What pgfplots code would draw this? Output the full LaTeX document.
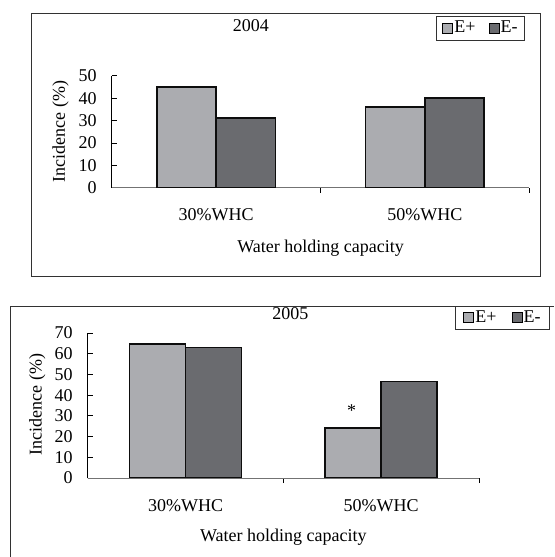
\documentclass[border=0pt]{standalone}
\usepackage{pgfplots}
\pgfplotsset{compat=1.18}
\usepackage{fontspec}
\setmainfont{Liberation Serif}
\definecolor{eplus}{RGB}{171,172,176}
\definecolor{eminus}{RGB}{106,107,111}
\definecolor{frame}{RGB}{50,50,50}
\pgfplotsset{
  myaxis/.style={
    scale only axis,
    axis x line*=bottom, axis y line*=left,
    xmin=-0.5, xmax=1.5, ymin=0,
    tick align=inside, major tick length=5bp,
    /pgf/number format/assume math mode=true,
    xtick={0.5,1.5}, xticklabels={,},
    extra x ticks={0,1}, extra x tick labels={30\%WHC,50\%WHC},
    extra x tick style={major tick length=0pt, xticklabel style={anchor=base, yshift=-33.3bp}},
    yticklabel style={xshift=-9bp},
    ybar=0pt,
    x axis line style={draw=black!55, line width=0.8bp},
    y axis line style={draw=black, line width=1bp},
    tick style={draw=black, line width=1bp},
    legend columns=2,
    legend image code/.code={\draw[#1,draw=black,line width=1bp] (0bp,-5bp) rectangle (10bp,5bp);},
    title style={anchor=center},
    xlabel style={anchor=base},
    ylabel style={anchor=center},
  },
  eplusbar/.style={fill=eplus, draw=black!95, line width=1.5bp},
  eminusbar/.style={fill=eminus, draw=black!95, line width=1.5bp},
}
\begin{document}
\fontsize{18bp}{21.6bp}\selectfont
\begin{tikzpicture}
\useasboundingbox (0,0) rectangle (555bp,557bp);
% panel frames
\draw[frame, line width=1bp] (31bp,280.3bp) rectangle (540.7bp,543bp);
\draw[frame, line width=1bp] (10bp,0bp) -- (10bp,250.7bp) -- (554bp,250.7bp);

% 2004
\begin{axis}[myaxis,
  at={(111.7bp,369.3bp)}, anchor=south west,
  width=417.6bp, height=111.7bp,
  ymax=50, ytick={0,10,20,30,40,50},
  bar width=59.3bp,
  title={2004}, title style={at={(axis description cs:0.333,1.397)}},
  xlabel={Water holding capacity}, xlabel style={at={(axis description cs:0.5,-0.582)}},
  ylabel={Incidence (\%)}, ylabel style={at={(axis description cs:-0.1226,0.505)}},
  legend style={at={(axis description cs:0.9897,1.537)}, anchor=north east,
    draw=frame, line width=0.8bp, inner xsep=6bp, inner ysep=3.5bp,
    /tikz/every even column/.append style={column sep=12bp},
    nodes={inner sep=1bp}},
]
\addplot[eplusbar] coordinates {(0,45.1) (1,36.1)};
\addplot[eminusbar] coordinates {(0,31.2) (1,40.2)};
\legend{E+,E-}
\end{axis}

% 2005
\begin{axis}[myaxis,
  at={(87.7bp,79bp)}, anchor=south west,
  width=391.3bp, height=145bp,
  ymax=70, ytick={0,10,20,30,40,50,60,70},
  bar width=56bp,
  title={2005}, title style={at={(axis description cs:0.518,1.094)}},
  xlabel={Water holding capacity}, xlabel style={at={(axis description cs:0.5,-0.4366)}},
  ylabel={Incidence (\%)}, ylabel style={at={(axis description cs:-0.1288,0.507)}},
  legend style={at={(axis description cs:1.1814,1.184)}, anchor=north east,
    draw=frame, line width=0.8bp, inner xsep=8bp, inner ysep=3bp,
    /tikz/every even column/.append style={column sep=14bp},
    nodes={inner sep=1bp}},
]
\addplot[eplusbar] coordinates {(0,64.6) (1,24.1)};
\addplot[eminusbar] coordinates {(0,62.9) (1,46.7)};
\legend{E+,E-}
\node[anchor=base, xshift=-29.5bp] at (axis cs:1,29.7) {*};
\end{axis}
\end{tikzpicture}
\end{document}
